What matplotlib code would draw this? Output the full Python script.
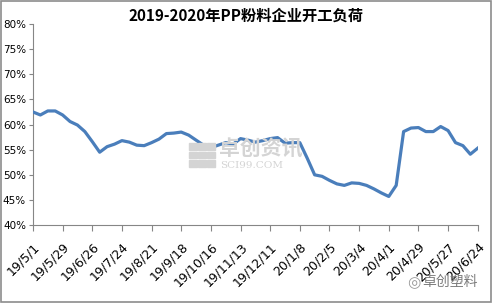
import numpy as np
import matplotlib.pyplot as plt
from matplotlib.patches import Rectangle

plt.rcParams['font.family'] = ['Noto Sans CJK SC', 'DejaVu Sans']

title = '2019-2020年PP粉料企业开工负荷'
# weekly load rate (%), 2019-05-01 .. 2020-06-24
load = [62.5, 61.9, 62.7, 62.7, 61.9, 60.6, 59.9, 58.6, 56.6, 54.5,
        55.6, 56.1, 56.8, 56.5, 55.9, 55.8, 56.4, 57.1, 58.2, 58.3,
        58.5, 57.9, 56.9, 55.9, 55.4, 55.9, 56.4, 56.1, 57.2, 56.9,
        56.5, 56.8, 57.2, 57.4, 56.3, 56.4, 56.4, 53.3, 50.0, 49.7,
        48.9, 48.2, 47.9, 48.4, 48.3, 47.9, 47.2, 46.4, 45.7, 47.9,
        58.6, 59.3, 59.4, 58.6, 58.6, 59.6, 58.8, 56.4, 55.8, 54.1,
        55.3]
tick_labels = ['19/5/1', '19/5/29', '19/6/26', '19/7/24', '19/8/21', '19/9/18',
               '19/10/16', '19/11/13', '19/12/11', '20/1/8', '20/2/5', '20/3/4',
               '20/4/1', '20/4/29', '20/5/27', '20/6/24']
y_ticks = [40, 45, 50, 55, 60, 65, 70, 75, 80]

fig = plt.figure(figsize=(4.92, 3.03), dpi=100)
fig.patches.append(Rectangle((0.002, 0.003), 0.996, 0.994, transform=fig.transFigure,
                             fill=False, edgecolor='#8c8c8c', linewidth=1.2))
ax = fig.add_axes([0.067, 0.257, 0.904, 0.664])

x = np.arange(len(load))
ax.plot(x, load, color='#4a7ebb', linewidth=2.3, solid_joinstyle='round', zorder=3)

ax.set_xlim(0, len(load) - 1)
ax.set_ylim(40, 80)
ax.set_yticks(y_ticks)
ax.set_yticklabels([f'{v}%' for v in y_ticks], fontsize=7.5,
                   family=['Liberation Sans Narrow', 'DejaVu Sans'])
ax.set_xticks(x[::4])
ax.set_xticklabels(tick_labels, rotation=45, ha='right', rotation_mode='anchor',
                   fontsize=9, family='DejaVu Sans')
for s in ['top', 'right']:
    ax.spines[s].set_visible(False)
for s in ['left', 'bottom']:
    ax.spines[s].set_color('#868686')
ax.tick_params(axis='both', color='#868686', width=0.8)
ax.tick_params(axis='y', length=3, pad=2)
ax.tick_params(axis='x', length=4, pad=7)

fig.text(0.5, 0.95, title, ha='center', va='center', fontsize=11, fontweight='bold')

# watermarks
for r in range(3):
    for c in range(3):
        fig.patches.append(Rectangle((0.385 + c * 0.018, 0.45 + r * 0.027), 0.015, 0.023,
                                     transform=fig.transFigure, color='#d4d4d4', zorder=1))
fig.text(0.445, 0.51, '卓创资讯', fontsize=15, color='#d4d4d4', va='center', ha='left', fontweight='bold')
fig.text(0.447, 0.455, 'SCI99.COM', fontsize=7.5, color='#d4d4d4', va='center', ha='left', family='DejaVu Serif')
fig.text(0.972, 0.068, '卓创塑料', fontsize=10, color='#7a7a7a', va='center', ha='right')
fig.text(0.84, 0.068, '◎', fontsize=11, color='#9a9a9a', va='center', ha='center', family='DejaVu Sans')

fig.savefig('out.png', dpi=100)
